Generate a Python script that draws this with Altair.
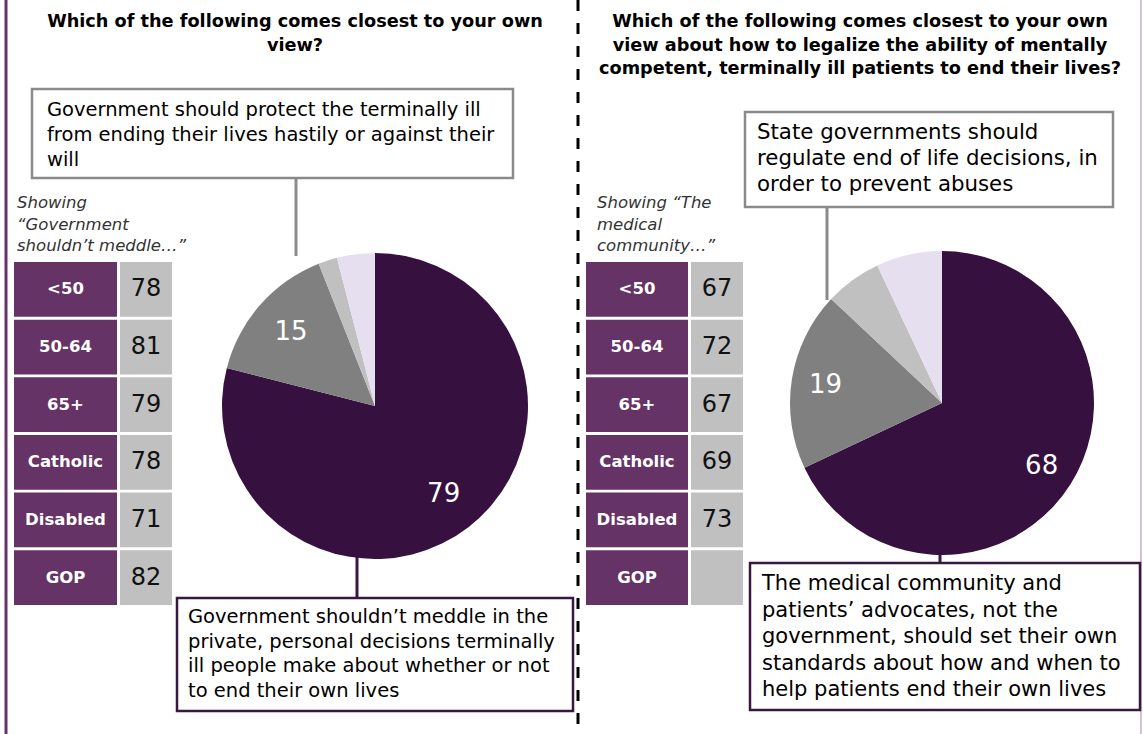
import altair as alt
import pandas as pd

# ---------------- data ----------------
groups = ["<50", "50-64", "65+", "Catholic", "Disabled", "GOP"]
left_values = [78, 81, 79, 78, 71, 82]
right_values = [67, 72, 67, 69, 73, None]

slice_keys = ["support", "oppose", "other", "dontknow"]
left_pie = [79, 15, 2, 4]
right_pie = [68, 19, 6, 7]
left_pie_labels = ["79", "15", "", ""]
right_pie_labels = ["68", "19", "", ""]

left_title = ["Which of the following comes closest to your own", "view?"]
right_title = ["Which of the following comes closest to your own",
               "view about how to legalize the ability of mentally",
               "competent, terminally ill patients to end their lives?"]
left_note = ["Showing", "\u201cGovernment", "shouldn\u2019t meddle\u2026\u201d"]
right_note = ["Showing \u201cThe", "medical", "community\u2026\u201d"]
left_top_box = ["Government should protect the terminally ill",
                "from ending their lives hastily or against their",
                "will"]
left_bottom_box = ["Government shouldn\u2019t meddle in the",
                   "private, personal decisions terminally",
                   "ill people make about whether or not",
                   "to end their own lives"]
right_top_box = ["State governments should",
                 "regulate end of life decisions, in",
                 "order to prevent abuses"]
right_bottom_box = ["The medical community and",
                    "patients\u2019 advocates, not the",
                    "government, should set their own",
                    "standards about how and when to",
                    "help patients end their own lives"]

# ---------------- styles ----------------
FONT = "DejaVu Sans"
PURPLE_TABLE = "#653366"
PIE_COLORS = ["#36103f", "#808080", "#c0c0c0", "#e6dff0"]
BOX_GRAY = "#8a8a8a"
BOX_DARK = "#3a1742"
W, H = 1143, 734

table_df = pd.DataFrame({
    "group": groups,
    "left": left_values,
    "right": right_values,
})
table_df["left_txt"] = table_df["left"].map(lambda v: "" if pd.isna(v) else str(int(v)))
table_df["right_txt"] = table_df["right"].map(lambda v: "" if pd.isna(v) else str(int(v)))

pie_left_df = pd.DataFrame({"key": slice_keys, "value": left_pie,
                            "label": left_pie_labels, "order": range(4)})
pie_right_df = pd.DataFrame({"key": slice_keys, "value": right_pie,
                             "label": right_pie_labels, "order": range(4)})

one = pd.DataFrame({"d": [0]})

row_scale = alt.Scale(domain=groups, range=[262, 605], paddingInner=0.05, paddingOuter=0)
Yrow = alt.Y("group:N", scale=row_scale, axis=None, sort=groups)
color_scale = alt.Scale(domain=slice_keys, range=PIE_COLORS)
theta_scale = alt.Scale(domain=[0, 100])


def table_layers(x0, x1, v0, v1, field):
    base = alt.Chart(table_df)
    lab_rect = base.mark_rect(color=PURPLE_TABLE).encode(
        y=Yrow, x=alt.value(x0), x2=alt.value(x1))
    val_rect = base.mark_rect(color="#c0c0c0").encode(
        y=Yrow, x=alt.value(v0), x2=alt.value(v1))
    lab_txt = base.mark_text(color="white", font=FONT, fontWeight="bold",
                             fontSize=16.5, align="center", baseline="middle").encode(
        y=Yrow, x=alt.value((x0 + x1) / 2), text="group:N")
    val_txt = base.mark_text(color="#111111", font=FONT, fontSize=24,
                             align="center", baseline="middle").encode(
        y=Yrow, x=alt.value((v0 + v1) / 2), text=f"{field}_txt:N")
    return [lab_rect, val_rect, lab_txt, val_txt]


def pie_layers(df, cx, cy, r, label_r):
    base = alt.Chart(df)
    arc = base.mark_arc(radius=r, x=cx, y=cy, stroke=None).encode(
        theta=alt.Theta("value:Q", stack=True, scale=theta_scale),
        color=alt.Color("key:N", scale=color_scale, legend=None),
        order=alt.Order("order:Q"))
    txt = base.mark_text(radius=label_r, x=cx, y=cy, color="white", font=FONT,
                         fontSize=26, align="center", baseline="middle").encode(
        theta=alt.Theta("value:Q", stack=True, scale=theta_scale),
        order=alt.Order("order:Q"),
        text="label:N")
    return [arc, txt]


def box(x0, x1, y0, y1, stroke):
    return alt.Chart(one).mark_rect(fill="white", stroke=stroke, strokeWidth=2.5).encode(
        x=alt.value(x0), x2=alt.value(x1), y=alt.value(y0), y2=alt.value(y1))


def vline(x, y0, y1, color, width=3, dash=None):
    kw = dict(color=color, strokeWidth=width)
    if dash:
        kw["strokeDash"] = dash
    return alt.Chart(one).mark_rule(**kw).encode(
        x=alt.value(x), y=alt.value(y0), y2=alt.value(y1))


def text_block(lines, x, y, size, align="left", weight="normal", style="normal",
               color="black", lh=None):
    kw = dict(font=FONT, fontSize=size, align=align, baseline="middle", color=color,
              fontWeight=weight, fontStyle=style, lineHeight=lh or size * 1.25)
    return alt.Chart(one).mark_text(**kw).encode(
        x=alt.value(x), y=alt.value(y), text=alt.value(lines))


layers = []
# frame lines
layers.append(vline(6, 0, H, "#66326a", width=3))
layers.append(vline(1141, 0, H, "#c9acd2", width=1.5))
layers.append(vline(578, 0, H, "black", width=3, dash=[11, 12]))

# titles (y = centre of first line)
layers.append(text_block(left_title, 295, 22, 17.7, align="center", weight="bold", lh=23.5))
layers.append(text_block(right_title, 860, 22, 17.7, align="center", weight="bold", lh=23.5))

# notes
layers.append(text_block(left_note, 17, 203, 16.5, style="italic", color="#333333", lh=21.5))
layers.append(text_block(right_note, 597, 203, 16.5, style="italic", color="#333333", lh=21.5))

# tables
layers += table_layers(14, 117, 120, 172, "left")
layers += table_layers(586, 688, 691, 743, "right")

# leader lines
layers.append(vline(296, 178, 256, BOX_GRAY, width=3))
layers.append(vline(357, 555, 598, BOX_DARK, width=3))
layers.append(vline(827, 207, 300, BOX_GRAY, width=3))
layers.append(vline(940, 553, 563, BOX_DARK, width=3))

# pies
layers += pie_layers(pie_left_df, 375, 406, 153, 112)
layers += pie_layers(pie_right_df, 942, 403, 152, 118)

# boxes
layers.append(box(32, 513, 89, 178, BOX_GRAY))
layers.append(text_block(left_top_box, 47, 110, 19.5, lh=25))
layers.append(box(177, 573, 598, 711, BOX_DARK))
layers.append(text_block(left_bottom_box, 188, 617, 19.5, lh=24.7))
layers.append(box(745, 1113, 112, 207, BOX_GRAY))
layers.append(text_block(right_top_box, 757, 133, 21.3, lh=26))
layers.append(box(750, 1140, 563, 710, BOX_DARK))
layers.append(text_block(right_bottom_box, 762, 584, 21, lh=26.5))

chart = alt.layer(*layers).properties(
    width=W, height=H, padding=0, autosize=alt.AutoSizeParams(type="none"),
    background="white"
).configure_view(stroke=None)

chart.save("out.html", embed_options={"renderer": "svg", "actions": False})
